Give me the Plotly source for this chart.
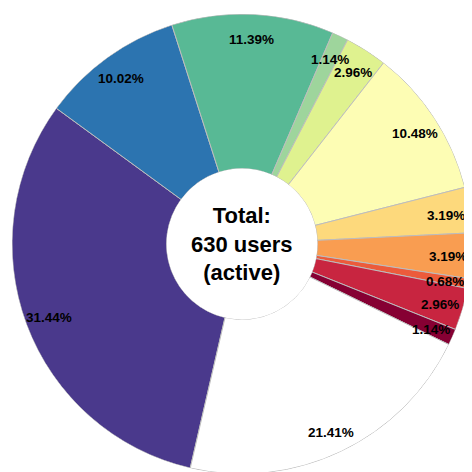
import numpy as np
import plotly.graph_objects as go

# ---- data (clockwise order, starting with the purple slice) ----
segments = ["Segment A", "Segment B", "Segment C", "Segment D", "Segment E", "Segment F",
            "Segment G", "Segment H", "Segment I", "Segment J", "Segment K", "Other"]
user_counts = [138, 44, 50, 5, 13, 46, 14, 14, 3, 13, 5, 94]
slice_colors = ["#4a398c", "#2c74b0", "#58b995", "#9ed59c", "#dff28f", "#fdfdb4",
                "#fdd97c", "#f99d51", "#ec5b3b", "#c82540", "#860033", "#ffffff"]
center_lines = ["Total:", "630 users", "(active)"]

START_ANGLE = 193      # degrees clockwise from 12 o'clock where the first slice starts
HOLE = 0.328
LABEL_FRAC = 0.897     # label radius as a fraction of the outer radius

n = len(user_counts)
total = float(sum(user_counts))
pct = [100.0 * c / total for c in user_counts]
widths = np.array([p * 3.6 for p in pct])
starts = START_ANGLE + np.concatenate([[0.0], np.cumsum(widths)[:-1]])
thetas = (starts + widths / 2.0) % 360

fig = go.Figure()
fig.add_trace(go.Barpolar(
    r=[1.0] * n,
    theta=thetas,
    width=widths,
    text=segments,
    marker=dict(color=slice_colors, line=dict(color="#bdbdbd", width=1)),
    hoverinfo="text",
))

# percentage labels: placed at LABEL_FRAC of the outer radius along each slice's mid-angle
# (the polar area fills the square plot area, so its radius is 0.5 in paper units)
label_font = dict(family="Liberation Sans, Arial, sans-serif", size=13.5, color="black")
annotations = []
for p, th in zip(pct, thetas):
    rad = np.deg2rad(th)
    annotations.append(dict(
        x=0.5 + 0.5 * LABEL_FRAC * np.sin(rad),
        y=0.5 + 0.5 * LABEL_FRAC * np.cos(rad),
        xref="paper", yref="paper",
        text=f"<b>{p:.2f}%</b>",
        showarrow=False, font=label_font,
        xanchor="center", yanchor="middle", yshift=-2,
    ))

annotations.append(dict(
    x=0.5, y=0.5, xref="paper", yref="paper",
    text="<br>".join(f"<b>{t}</b>" for t in center_lines),
    showarrow=False,
    font=dict(family="Liberation Sans, Arial, sans-serif", size=22, color="black"),
    align="center",
))

fig.update_layout(
    width=464, height=466,
    margin=dict(l=4, r=0, t=6, b=0),
    showlegend=False,
    paper_bgcolor="white",
    polar=dict(
        hole=HOLE,
        bgcolor="white",
        radialaxis=dict(range=[0, 1], visible=False),
        angularaxis=dict(visible=False, rotation=90, direction="clockwise"),
    ),
    annotations=annotations,
)

fig.write_html("out.html")
